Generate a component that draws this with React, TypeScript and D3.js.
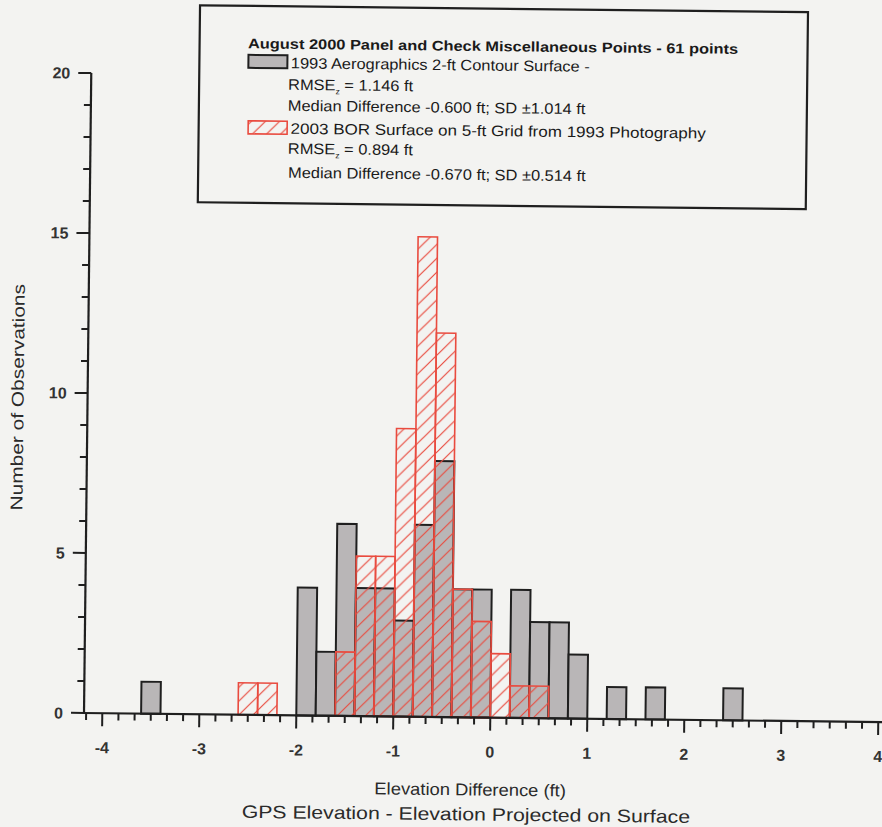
import React from "react";
import * as d3 from "d3";

// ---- data ----
const binWidth = 0.2;
const grayBinStarts = [-3.6, -2.0, -1.8, -1.6, -1.4, -1.2, -1.0, -0.8, -0.6, -0.4, -0.2, 0.2, 0.4, 0.6, 0.8, 1.2, 1.6, 2.4];
const grayCounts = [1, 4, 2, 6, 4, 4, 3, 6, 8, 4, 4, 4, 3, 3, 2, 1, 1, 1];
const redBinStarts = [-2.6, -2.4, -1.6, -1.4, -1.2, -1.0, -0.8, -0.6, -0.4, -0.2, 0.0, 0.2, 0.4];
const redCounts = [1, 1, 2, 5, 5, 9, 15, 12, 4, 3, 2, 1, 1];
const xTickLabels = [-4, -3, -2, -1, 0, 1, 2, 3, 4];
const yTickLabels = [0, 5, 10, 15, 20];

const legendTitle = "August 2000 Panel and Check Miscellaneous Points - 61 points";
const grayName = "1993 Aerographics 2-ft Contour Surface -";
const grayRmse = "1.146 ft";
const grayMedian = "Median Difference -0.600 ft; SD \u00b11.014 ft";
const redName = "2003 BOR Surface on 5-ft Grid from 1993 Photography";
const redRmse = "0.894 ft";
const redMedian = "Median Difference -0.670 ft; SD \u00b10.514 ft";
const xTitle1 = "Elevation Difference (ft)";
const xTitle2 = "GPS Elevation - Elevation Projected on Surface";
const yTitle = "Number of Observations";

const W = 882;
const H = 827;
const FONT = "'Liberation Sans', Arial, Helvetica, sans-serif";
const GRAY = "#b9b6b7";
const RED = "#e94b3f";
const INK = "#1f1f1f";
const BG = "#f3f3f1";

function SText(props: {
  x: number;
  y: number;
  sx: number;
  size: number;
  bold?: boolean;
  anchor?: string;
  rotate?: number;
  fill?: string;
  children: React.ReactNode;
}) {
  const { x, y, sx, size, bold, anchor, rotate, fill, children } = props;
  const tr = `translate(${x},${y})${rotate ? ` rotate(${rotate})` : ""} scale(${sx},1)`;
  return (
    <text
      transform={tr}
      textAnchor={anchor || "start"}
      fontFamily={FONT}
      fontWeight={bold ? "bold" : "normal"}
      fontSize={size}
      fill={fill || "#1a1a1a"}
    >
      {children}
    </text>
  );
}

export default function App() {
  const x = d3.scaleLinear().domain([-4, 4]).range([102.3, 878.3]);
  const y = d3.scaleLinear().domain([0, 20]).range([713, 73]);
  const axisX = 84;
  const y0 = y(0);

  const yMinor = d3.range(0, 21);
  const xMinor = d3.range(-1, 49).map((k) => -4 + k / 6);

  const gray = grayBinStarts.map((s, i) => ({ s, c: grayCounts[i] }));
  const red = redBinStarts.map((s, i) => ({ s, c: redCounts[i] }));

  const LS = 15.2;
  const LX = 1.08;

  return (
    <div style={{ position: "absolute", left: 0, top: 0 }}>
      <svg width={W} height={H} style={{ display: "block", background: BG }}>
        <defs>
          <pattern id="hatch" patternUnits="userSpaceOnUse" width={14} height={14}>
            <path d="M0,14 L14,0 M-3.5,3.5 L3.5,-3.5 M10.5,17.5 L17.5,10.5" stroke={RED} strokeWidth={1.2} />
          </pattern>
        </defs>
        <rect x={0} y={0} width={W} height={H} fill={BG} />
        <g transform="rotate(0.65, 83, 713)">
          {/* gray bars */}
          {gray.map((d, i) => (
            <rect
              key={"g" + i}
              x={x(d.s)}
              y={y(d.c)}
              width={x(d.s + binWidth) - x(d.s)}
              height={y0 - y(d.c)}
              fill={GRAY}
              stroke={INK}
              strokeWidth={2}
            />
          ))}
          {/* red hatched bars */}
          {red.map((d, i) => (
            <rect
              key={"r" + i}
              x={x(d.s)}
              y={y(d.c)}
              width={x(d.s + binWidth) - x(d.s)}
              height={y0 - y(d.c)}
              fill="url(#hatch)"
              stroke={RED}
              strokeWidth={1.6}
            />
          ))}

          {/* y axis */}
          <line x1={axisX} x2={axisX} y1={y(20)} y2={y0 + 1} stroke={INK} strokeWidth={2.2} />
          {yMinor.map((v) => (
            <line
              key={"yt" + v}
              x1={axisX}
              x2={axisX - (v % 5 === 0 ? 13 : 7)}
              y1={y(v)}
              y2={y(v)}
              stroke={INK}
              strokeWidth={2}
            />
          ))}
          {yTickLabels.map((v) => (
            <text
              key={"yl" + v}
              x={axisX - 21}
              y={y(v)}
              dy="0.36em"
              textAnchor="end"
              fontFamily={FONT}
              fontWeight="bold"
              fontSize={16}
              fill="#333"
            >
              {v}
            </text>
          ))}

          {/* x axis */}
          <line x1={axisX - 1} x2={W + 5} y1={y0} y2={y0} stroke={INK} strokeWidth={2.2} />
          {xMinor.map((v, i) => {
            const major = Math.abs(v - Math.round(v)) < 1e-6;
            return (
              <line
                key={"xt" + i}
                x1={x(v)}
                x2={x(v)}
                y1={y0}
                y2={y0 + (major ? 13 : 7)}
                stroke={INK}
                strokeWidth={2}
              />
            );
          })}
          {xTickLabels.map((v) => (
            <text
              key={"xl" + v}
              x={x(v)}
              y={753}
              textAnchor="middle"
              fontFamily={FONT}
              fontWeight="bold"
              fontSize={16}
              fill="#333"
            >
              {v}
            </text>
          ))}

          {/* axis titles */}
          <SText x={14} y={398} sx={1.23} size={17} anchor="middle" rotate={-90} fill="#2a2a2a">
            <tspan dy="0.35em">{yTitle}</tspan>
          </SText>
          <SText x={471} y={791} sx={1.08} size={17} anchor="middle" fill="#2a2a2a">
            {xTitle1}
          </SText>
          <SText x={467} y={816} sx={1.18} size={18} anchor="middle" fill="#2a2a2a">
            {xTitle2}
          </SText>

          {/* legend */}
          <rect x={192} y={4} width={608} height={197} fill={BG} stroke={INK} strokeWidth={2.2} />
          <SText x={240.5} y={46.5} sx={1.17} size={14} bold>
            {legendTitle}
          </SText>
          <rect x={241} y={53} width={39} height={13} fill={GRAY} stroke={INK} strokeWidth={2} />
          <SText x={283.5} y={66} sx={LX} size={LS}>
            {grayName}
          </SText>
          <SText x={281} y={87.5} sx={LX} size={LS}>
            RMSE
            <tspan fontSize={8} dy={4}>z</tspan>
            <tspan dy={-4}>{" = " + grayRmse}</tspan>
          </SText>
          <SText x={281} y={108.5} sx={LX} size={LS}>
            {grayMedian}
          </SText>
          <rect x={241.5} y={119} width={39} height={13} fill="url(#hatch)" stroke={RED} strokeWidth={1.6} />
          <SText x={284} y={131.5} sx={1.12} size={LS}>
            {redName}
          </SText>
          <SText x={281.5} y={151.5} sx={LX} size={LS}>
            RMSE
            <tspan fontSize={8} dy={4}>z</tspan>
            <tspan dy={-4}>{" = " + redRmse}</tspan>
          </SText>
          <SText x={282} y={175.5} sx={LX} size={LS}>
            {redMedian}
          </SText>
        </g>
      </svg>
    </div>
  );
}
